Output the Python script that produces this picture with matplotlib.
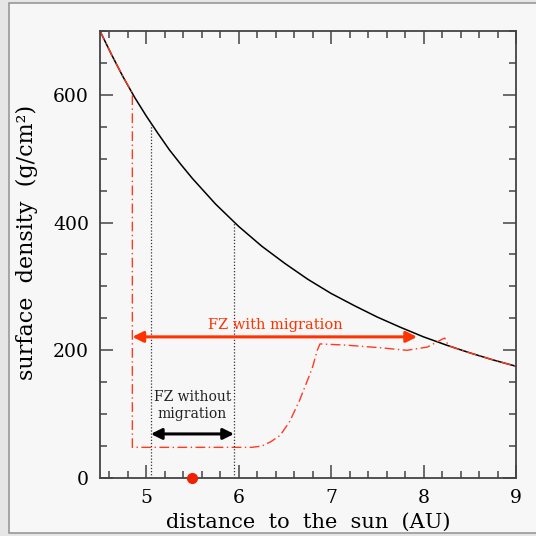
import matplotlib.pyplot as plt
from matplotlib.patches import Rectangle
from matplotlib.ticker import MultipleLocator

plt.rcParams['font.family'] = ['DejaVu Serif']
plt.rcParams['mathtext.fontset'] = 'dejavuserif'

# minimum mass nebula, surface density vs. distance
r_disk = [4.5, 4.625, 4.75, 4.875, 5.0, 5.125, 5.25, 5.375, 5.5, 5.75,
          6.0, 6.25, 6.5, 6.75, 7.0, 7.25, 7.5, 7.75, 8.0, 8.25, 8.5,
          8.75, 9.0]
sigma_disk = [700, 663, 628, 596, 567, 540, 514, 491, 469, 429,
              394, 363, 336, 311, 289, 270, 252, 236, 221, 208, 196,
              185, 175]

# profile after the feeding zone has been cleared (with migration)
r_mig = [4.5, 4.625, 4.75, 4.85, 4.85, 6.14, 6.25, 6.35, 6.45, 6.55, 6.66,
         6.75, 6.8, 6.85, 6.88, 7.17, 7.53, 7.82, 8.04, 8.21, 8.23, 8.27,
         8.5, 8.75, 9.0]
sigma_mig = [700, 663, 628, 603, 48, 48, 50, 57, 67, 88, 122,
             155, 174, 200, 210, 208, 204, 200, 205, 218, 219, 207,
             196, 185, 175]

fz_nomig = [5.05, 5.95]
fz_mig = [4.85, 7.93]
planet_r = 5.5

fig = plt.figure(figsize=(5.36, 5.36), dpi=100)
fig.patch.set_facecolor('#e6e6e6')
fig.patches.append(Rectangle((9 / 536, 3 / 536), 1.0, 530 / 536,
                             transform=fig.transFigure, facecolor='#f7f7f7',
                             edgecolor='#999999', lw=1.2, zorder=-1))
ax = fig.add_axes([100 / 536, 58 / 536, 416 / 536, 447 / 536])
ax.set_facecolor('#f7f7f7')

ax.plot(r_disk, sigma_disk, color='black', lw=1.1)
ax.plot(r_mig, sigma_mig, color='#ff3b1f', lw=1.0,
        linestyle=(0, (7, 2.5, 1, 2.5)))

# edges of the feeding zone without migration
for r, top in zip(fz_nomig, [556, 400]):
    ax.plot([r, r], [0, top], color='#333333', lw=0.9, linestyle=(0, (1, 1.5)))

ax.annotate('', xy=(fz_nomig[0], 69), xytext=(fz_nomig[1], 69),
            arrowprops=dict(arrowstyle='<|-|>', color='black', lw=2.2,
                            mutation_scale=16, shrinkA=0, shrinkB=0))
ax.text(5.5, 113, 'FZ without\nmigration', ha='center', va='center',
        fontsize=10, linespacing=1.25, color='#222222')

ax.annotate('', xy=(fz_mig[0], 221), xytext=(fz_mig[1], 221),
            arrowprops=dict(arrowstyle='<|-|>', color='#ff3300', lw=2.2,
                            mutation_scale=16, shrinkA=0, shrinkB=0))
ax.text(6.4, 240, 'FZ with migration', ha='center', va='center',
        fontsize=10.5, color='#ff3300')

ax.plot([planet_r], [0], 'o', color='#ee2200', ms=7, clip_on=False, zorder=5)

ax.set_xlim(4.5, 9)
ax.set_ylim(0, 700)
ax.xaxis.set_major_locator(MultipleLocator(1))
ax.xaxis.set_minor_locator(MultipleLocator(0.2))
ax.yaxis.set_major_locator(MultipleLocator(200))
ax.yaxis.set_minor_locator(MultipleLocator(50))
ax.tick_params(which='both', direction='in', top=True, right=True,
               color='#444444', width=1.1, labelsize=13.5, pad=8)
ax.tick_params(which='major', length=9.5)
ax.tick_params(which='minor', length=4.8)
for s in ax.spines.values():
    s.set_color('#444444')
    s.set_linewidth(1.3)

ax.set_xlabel('distance  to  the  sun  (AU)', fontsize=15, labelpad=4)
ax.set_ylabel('surface  density  (g/cm²)', fontsize=16)
ax.yaxis.set_label_coords(-0.15, 0.527)

fig.savefig('out.png', dpi=100, facecolor=fig.get_facecolor())
